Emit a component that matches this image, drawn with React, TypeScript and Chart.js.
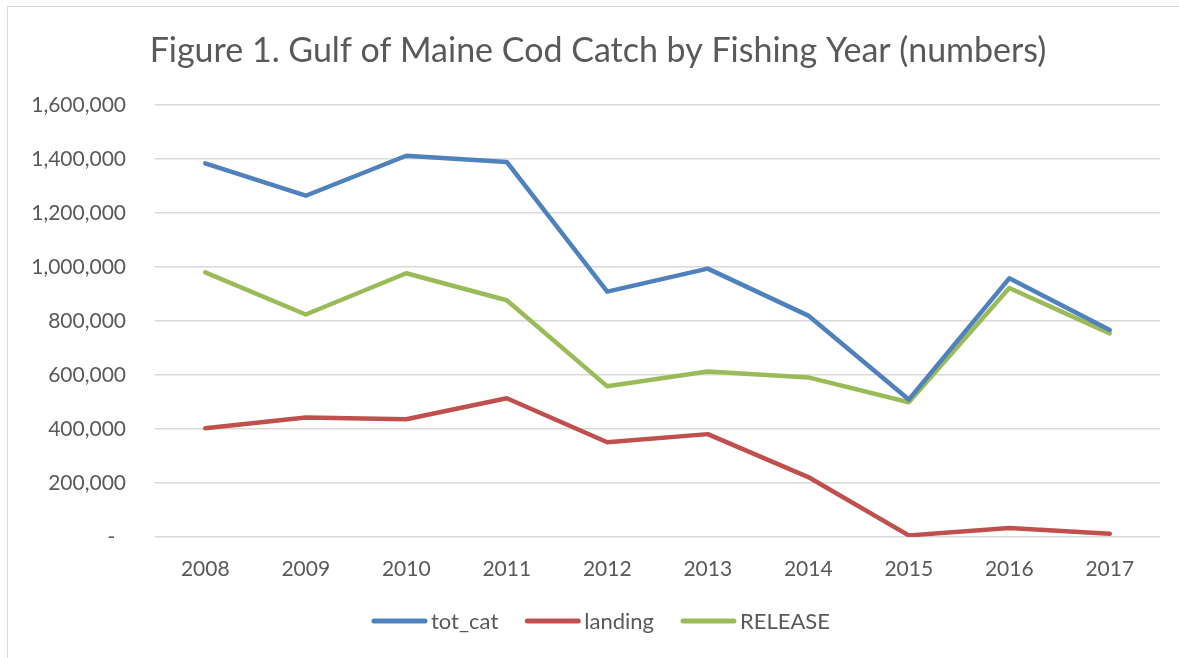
import React, { useEffect, useRef } from "react";
import { Chart, registerables } from "chart.js";

Chart.register(...registerables);

const TITLE = "Figure 1. Gulf of Maine Cod Catch by Fishing Year (numbers)";
const years = ["2008", "2009", "2010", "2011", "2012", "2013", "2014", "2015", "2016", "2017"];
const totCat = [1384000, 1264000, 1412000, 1389000, 909000, 994000, 820000, 509000, 958000, 767000];
const landing = [403000, 443000, 436000, 514000, 351000, 381000, 222000, 6000, 33000, 12000];
const release = [980000, 824000, 977000, 877000, 558000, 613000, 591000, 499000, 922000, 754000];
const seriesNames = ["tot_cat", "landing", "RELEASE"];
const seriesColors = ["#4f81bd", "#c0504d", "#9bbb59"];

const TEXT = "#595959";
const FONT = "Lato";

const decorPlugin = {
  id: "decor",
  beforeDraw(chart: any) {
    const ctx = chart.ctx;
    ctx.save();
    ctx.fillStyle = "#ffffff";
    ctx.fillRect(0, 0, chart.width, chart.height);
    ctx.strokeStyle = "#d9d9d9";
    ctx.lineWidth = 1;
    ctx.strokeRect(7.5, 6.5, 1400, 800);
    ctx.restore();
  },
  afterDraw(chart: any) {
    const ctx = chart.ctx;
    ctx.save();
    // title
    ctx.fillStyle = TEXT;
    ctx.font = `34px ${FONT}`;
    ctx.textAlign = "center";
    ctx.textBaseline = "middle";
    ctx.fillText(TITLE, 598, 51);
    // legend
    ctx.font = `22px ${FONT}`;
    const lineW = 55;
    const gapText = 4;
    const gapItem = 27;
    const items = chart.data.datasets.map((d: any) => ({
      label: d.label,
      color: d.borderColor,
      w: lineW + gapText + ctx.measureText(d.label).width,
    }));
    const total = items.reduce((s: number, it: any) => s + it.w, 0) + gapItem * (items.length - 1);
    let x = 601 - total / 2;
    const y = 621;
    ctx.textAlign = "left";
    items.forEach((it: any) => {
      ctx.strokeStyle = it.color;
      ctx.lineWidth = 5;
      ctx.lineCap = "round";
      ctx.beginPath();
      ctx.moveTo(x + 2, y);
      ctx.lineTo(x + lineW - 2, y);
      ctx.stroke();
      ctx.fillStyle = TEXT;
      ctx.fillText(it.label, x + lineW + gapText, y + 1);
      x += it.w + gapItem;
    });
    ctx.restore();
  },
};

export default function App() {
  const ref = useRef<HTMLCanvasElement | null>(null);
  useEffect(() => {
    document.body.style.margin = "0";
    const data = [totCat, landing, release];
    const chart = new Chart(ref.current as HTMLCanvasElement, {
      type: "line",
      data: {
        labels: years,
        datasets: seriesNames.map((n, i) => ({
          label: n,
          data: data[i],
          borderColor: seriesColors[i],
          backgroundColor: seriesColors[i],
          borderWidth: 4.5,
          pointRadius: 0,
          tension: 0,
          borderCapStyle: "round" as const,
          borderJoinStyle: "round" as const,
        })),
      },
      options: {
        animation: false,
        responsive: false,
        layout: { padding: { left: 0, right: 19, top: 105, bottom: 71 } },
        plugins: { legend: { display: false }, title: { display: false }, tooltip: { enabled: false } },
        scales: {
          x: {
            offset: true,
            grid: { display: false, drawTicks: false },
            border: { display: false },
            ticks: { color: TEXT, font: { family: FONT, size: 21 }, padding: 20, maxRotation: 0 },
            afterFit: (s: any) => { s.height = 50; },
          },
          y: {
            min: 0,
            max: 1600000,
            grid: { color: "#d9d9d9", lineWidth: 1.5, drawTicks: false },
            border: { display: false },
            ticks: {
              stepSize: 200000,
              color: TEXT,
              font: { family: FONT, size: 21 },
              padding: 29,
              callback: (v: any) => (Number(v) === 0 ? "-  " : Number(v).toLocaleString("en-US")),
            },
            afterFit: (s: any) => { s.width = 155; },
          },
        },
      },
      plugins: [decorPlugin],
    });
    return () => chart.destroy();
  }, []);
  return (
    <div style={{ width: 1179, height: 658 }}>
      <canvas ref={ref} width={1179} height={658} style={{ display: "block" }} />
    </div>
  );
}
